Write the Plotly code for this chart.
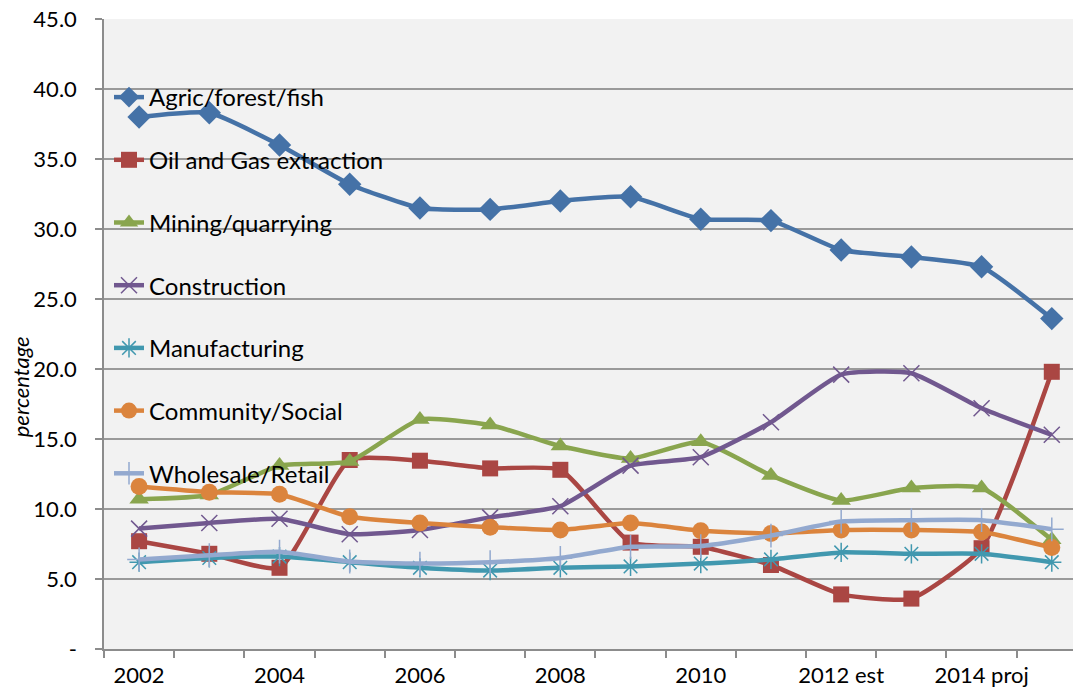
import plotly.graph_objects as go

categories = ["2002", "2003", "2004", "2005", "2006", "2007", "2008", "2009",
              "2010", "2011", "2012 est", "2013 est", "2014 proj", "2015 proj"]
tick_labels = ["2002", "", "2004", "", "2006", "", "2008", "", "2010", "",
               "2012 est", "", "2014 proj", ""]

agric = [38.0, 38.3, 36.0, 33.2, 31.5, 31.4, 32.0, 32.3, 30.7, 30.6, 28.5, 28.0, 27.3, 23.6]
oil_gas = [7.7, 6.8, 5.8, 13.5, 13.45, 12.9, 12.8, 7.6, 7.3, 6.0, 3.9, 3.6, 7.2, 19.8]
mining = [10.7, 11.0, 13.1, 13.4, 16.4, 16.0, 14.5, 13.6, 14.8, 12.4, 10.6, 11.5, 11.5, 7.8]
construction = [8.6, 9.0, 9.3, 8.2, 8.5, 9.4, 10.2, 13.1, 13.7, 16.2, 19.6, 19.7, 17.2, 15.3]
manufacturing = [6.2, 6.5, 6.6, 6.2, 5.8, 5.6, 5.8, 5.9, 6.1, 6.4, 6.9, 6.8, 6.8, 6.2]
community = [11.6, 11.2, 11.05, 9.45, 9.0, 8.7, 8.5, 9.0, 8.45, 8.25, 8.5, 8.5, 8.35, 7.25]
wholesale = [6.4, 6.7, 6.95, 6.25, 6.1, 6.2, 6.5, 7.3, 7.35, 8.1, 9.1, 9.2, 9.2, 8.55]

y_tickvals = [0, 5, 10, 15, 20, 25, 30, 35, 40, 45]
y_ticktext = ["-", "5.0", "10.0", "15.0", "20.0", "25.0", "30.0", "35.0", "40.0", "45.0"]

series = [
    ("Agric/forest/fish", agric, "#4572A7", "diamond", 18, 0),
    ("Oil and Gas extraction", oil_gas, "#AA4643", "square", 16, 0),
    ("Mining/quarrying", mining, "#89A54E", "triangle-up", 17, 0),
    ("Construction", construction, "#71588F", "x-thin-open", 16, 1.5),
    ("Manufacturing", manufacturing, "#4198AF", "asterisk-open", 16, 1.5),
    ("Community/Social", community, "#DB843D", "circle", 17, 0),
    ("Wholesale/Retail", wholesale, "#93A9CF", "cross-thin-open", 17, 1.5),
]

FONT = "Lato"
fig = go.Figure()
for i, (name, vals, color, sym, size, mlw) in enumerate(series):
    marker = dict(symbol=sym, size=size, color=color)
    if mlw:
        marker["line"] = dict(color=color, width=mlw)
    fig.add_trace(go.Scatter(
        x=categories, y=vals, name=name, mode="lines+markers",
        legendgroup=f"g{i}",
        line=dict(color=color, width=4.5, shape="spline", smoothing=0.5),
        marker=marker,
    ))

fig.update_layout(
    width=1081, height=699,
    margin=dict(l=96, r=0, t=11, b=58, autoexpand=False),
    paper_bgcolor="white",
    plot_bgcolor="#F2F2F2",
    font=dict(family=FONT, size=22, color="black"),
    showlegend=True,
    legend=dict(
        xref="container", yref="container",
        x=101 / 1081, y=1 - 67 / 699, xanchor="left", yanchor="top",
        bgcolor="rgba(0,0,0,0)",
        font=dict(family=FONT, size=24, color="black"),
        tracegroupgap=28.5,
        traceorder="grouped",
        maxheight=650,
    ),
    xaxis=dict(
        type="category",
        tickvals=categories, ticktext=tick_labels,
        tickson="boundaries",
        tickangle=0,
        range=[-0.5, 13.53],
        showgrid=False,
        showline=True, linecolor="#8C8C8C", linewidth=1.5,
        ticks="outside", ticklen=7, tickcolor="#8C8C8C", tickwidth=1.5,
        tickfont=dict(family=FONT, size=22),
        ticklabelstandoff=6,
        ticklabeloverflow="allow",
        zeroline=False,
    ),
    yaxis=dict(
        range=[0, 45],
        tickvals=y_tickvals, ticktext=y_ticktext,
        showgrid=True, gridcolor="#9A9A9A", gridwidth=1.5,
        showline=True, linecolor="#8C8C8C", linewidth=1.5,
        ticks="outside", ticklen=7, tickcolor="#8C8C8C", tickwidth=1.5,
        tickfont=dict(family=FONT, size=22),
        ticklabelstandoff=14,
        ticklabeloverflow="allow",
        zeroline=False,
    ),
    annotations=[dict(
        text="<i>percentage</i>", xref="paper", yref="paper",
        x=-0.0853, y=0.417, textangle=-90, showarrow=False,
        font=dict(family=FONT, size=22, color="black"),
        xanchor="center", yanchor="middle",
    )],
)

fig.write_html("out.html")
